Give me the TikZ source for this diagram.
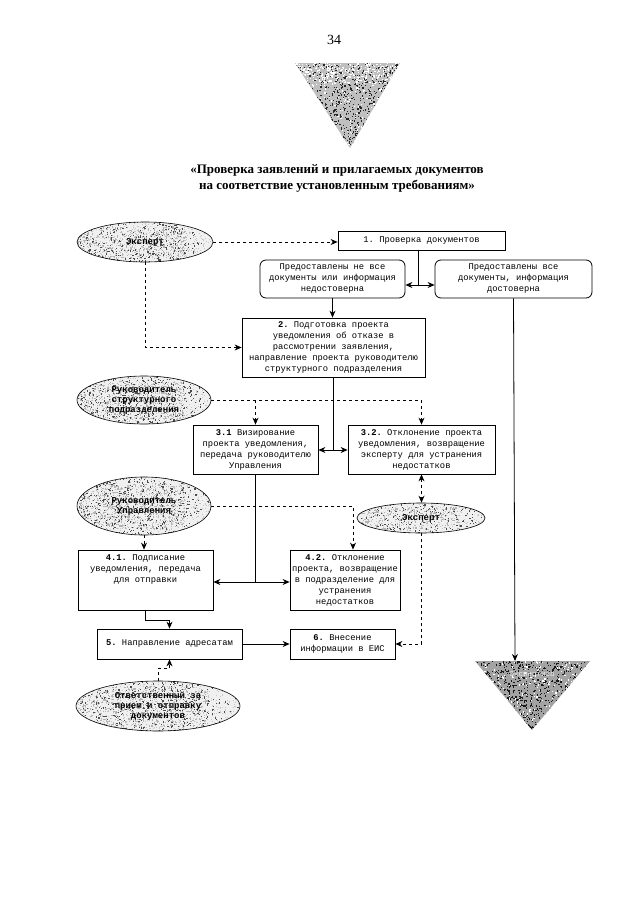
\documentclass[tikz,border=0pt]{standalone}
\usepackage{fontspec}
\setmainfont{Liberation Serif}
\setmonofont{Liberation Mono}
\usetikzlibrary{arrows.meta,shapes.geometric,calc}
\pgfdeclarelayer{bg}
\pgfsetlayers{bg,main}
\newcommand{\mynoise}[5]{%
  \begin{scope}
    \clip (#1,#2) ellipse [x radius=#3, y radius=#4];
    \fill[gray!12] (#1,#2) ellipse [x radius=#3, y radius=#4];
    \foreach \i in {1,...,#5}
      \fill[black!70] ({#1+#3*(rand-0.4*rnd)},{#2+#4*rand}) rectangle ++(1.2,1.2);
    \foreach \i in {1,...,#5}
      \fill[gray!60] ({#1+#3*(0.8*rand-0.2)},{#2+#4*0.8*rand}) rectangle ++(1.2,1.2);
    \foreach \i in {1,...,#5}
      \fill[gray!45] ({#1+#3*rand},{#2+#4*rand}) rectangle ++(1,1);
  \end{scope}}
\begin{document}
\begin{tikzpicture}[x=1pt,y=-1pt,
  box/.style={draw, line width=0.8pt, inner sep=0pt, align=center,
    font=\ttfamily\fontsize{8.8}{11}\selectfont},
  rbox/.style={box, rounded corners=6pt},
  actor/.style={ellipse, draw, line width=0.6pt, inner sep=0pt, align=center,
    font=\ttfamily\bfseries\fontsize{9}{10}\selectfont},
  arr/.style={-{Stealth[length=7pt,width=6pt]}, line width=0.8pt},
  darr/.style={arr, dashed},
  dline/.style={dashed, line width=0.8pt},
  sline/.style={line width=0.8pt}]
\pgfmathsetseed{4711}
\useasboundingbox (0,0) rectangle (640,905);
\begin{pgfonlayer}{bg}
\fill[white] (0,0) rectangle (640,905);
\end{pgfonlayer}

\node[font=\fontsize{14}{16}\selectfont] (pg) at (334,40) {34};
\node[font=\bfseries\fontsize{13}{16}\selectfont, align=center] (title) at (337,178)
  {«Проверка заявлений и прилагаемых документов\\на соответствие установленным требованиям»};

% top triangle
\begin{scope}
  \clip (295,63) -- (400,63) -- (350,148) -- cycle;
  \fill[gray!50] (295,63) rectangle (400,148);
  \foreach \i in {1,...,900}
    \fill[black!85] ({347+52*rand},{63+85*rnd}) rectangle ++(1.2,1.2);
  \foreach \i in {1,...,300}
    \fill[white] ({347+52*rand},{63+20*rnd}) rectangle ++(1.2,1.2);
  \foreach \i in {1,...,250}
    \fill[white] ({347+52*rand},{63+85*rnd}) rectangle ++(1.2,1.2);
\end{scope}
\coordinate (t1) at (350,148);

% bottom triangle
\begin{scope}
  \clip (475,661) -- (590,661) -- (532,730) -- cycle;
  \fill[gray!72] (475,661) rectangle (590,730);
  \foreach \i in {1,...,900}
    \fill[black!90] ({532+58*rand},{661+69*rnd}) rectangle ++(1.2,1.2);
  \foreach \i in {1,...,300}
    \fill[white] ({532+58*rand},{661+69*rnd}) rectangle ++(1.2,1.2);
\end{scope}
\node[font=\ttfamily\fontsize{7.5}{9}\selectfont, text=gray!15] (t2txt) at (532,675) {Экспертиза};
\coordinate (t2) at (515,661);

% boxes
\node[box, minimum width=167pt, minimum height=19pt] (B1) at (421.5,240.5) {1. Проверка документов};
\node[rbox, minimum width=145pt, minimum height=38pt] (L) at (332.5,279)
  {Предоставлены не все\\документы или информация\\недостоверна};
\node[rbox, minimum width=157pt, minimum height=38pt] (R) at (513.5,279)
  {Предоставлены все\\документы, информация\\достоверна};
\node[box, minimum width=183pt, minimum height=59pt] (B2) at (333.5,347.5)
  {\textbf{2.} Подготовка проекта\\уведомления об отказе в\\рассмотрении заявления,\\направление проекта руководителю\\структурного подразделения};
\node[box, minimum width=125pt, minimum height=49pt] (B31) at (255.5,449.5)
  {\textbf{3.1} Визирование\\проекта уведомления,\\передача руководителю\\Управления};
\node[box, minimum width=147pt, minimum height=49pt] (B32) at (421.5,449.5)
  {\textbf{3.2.} Отклонение проекта\\уведомления, возвращение\\эксперту для устранения\\недостатков};
\node[box, minimum width=135pt, minimum height=60pt] (B41) at (145.5,580)
  {\textbf{4.1.} Подписание\\уведомления, передача\\для отправки\\\mbox{}\\\mbox{}};
\node[box, minimum width=110pt, minimum height=60pt] (B42) at (345,580)
  {\textbf{4.2.} Отклонение\\проекта, возвращение\\в подразделение для\\устранения\\недостатков};
\node[box, minimum width=145pt, minimum height=30pt] (B5) at (169.5,644)
  {\textbf{5.} Направление адресатам};
\node[box, minimum width=105pt, minimum height=30pt] (B6) at (342.5,644)
  {\textbf{6.} Внесение\\информации в ЕИС};

% actors
\begin{pgfonlayer}{bg}
  \mynoise{145}{242}{68}{20}{450}
  \mynoise{144}{400}{67}{24}{550}
  \mynoise{144}{506}{67}{29}{650}
  \mynoise{421}{518}{64}{15}{250}
  \mynoise{158}{706}{82}{25}{600}
\end{pgfonlayer}
\node[actor, minimum width=136pt, minimum height=40pt] (E1) at (145,242) {Эксперт};
\node[actor, minimum width=134pt, minimum height=48pt] (E2) at (144,400)
  {Руководитель\\структурного\\подразделения};
\node[actor, minimum width=134pt, minimum height=58pt] (E3) at (144,506)
  {Руководитель\\Управления};
\node[actor, minimum width=128pt, minimum height=30pt] (E4) at (421,518) {Эксперт};
\node[actor, minimum width=164pt, minimum height=50pt] (E5) at (158,706)
  {Ответственный за\\прием и отправку\\документов};

% connectors
\draw[darr] (E1.east) -- (E1.east -| B1.west);
\draw[darr] (E1.south) |- (B2.west);

\coordinate (s1) at (418,285);
\draw[sline] (B1.south -| s1) -- (s1);
\draw[arr] (s1) -- (s1 -| L.east);
\draw[arr] (s1) -- (s1 -| R.west);
\draw[arr] (L.south) -- (L.south |- B2.north);
\draw[arr] (R.south) -- (t2);

\coordinate (s2) at (333.5,450);
\draw[sline] (B2.south) -- (s2);
\draw[arr] (s2) -- (s2 -| B31.east);
\draw[arr] (s2) -- (s2 -| B32.west);

\coordinate (d2) at (E2.east -| B32.north);
\draw[dline] (E2.east) -- (d2);
\draw[darr] (E2.east -| B31.north) -- (B31.north);
\draw[darr] (d2) -- (B32.north);

\coordinate (s3) at (B31.south |- 0,582);
\draw[sline] (B31.south) -- (s3);
\draw[arr] (s3) -- (s3 -| B41.east);
\draw[arr] (s3) -- (s3 -| B42.west);

\draw[dashed, line width=0.8pt, {Stealth[length=7pt,width=6pt]}-{Stealth[length=7pt,width=6pt]}] (B32.south) -- (B32.south |- E4.north);

\coordinate (d3) at ($(B42.north)+(8,0)$);
\draw[darr] (E3.east) -| (d3);
\draw[darr] (E3.south) -- (E3.south |- B41.north);

\draw[darr] (E4.south) |- (B6.east);

\draw[arr] (B41.south) -- ++(0,10) -| (B5.north);
\draw[arr] (B5.east) -- (B6.west);
\draw[darr] (E5.north) -- ++(0,-12) -| (B5.south);
\end{tikzpicture}
\end{document}
